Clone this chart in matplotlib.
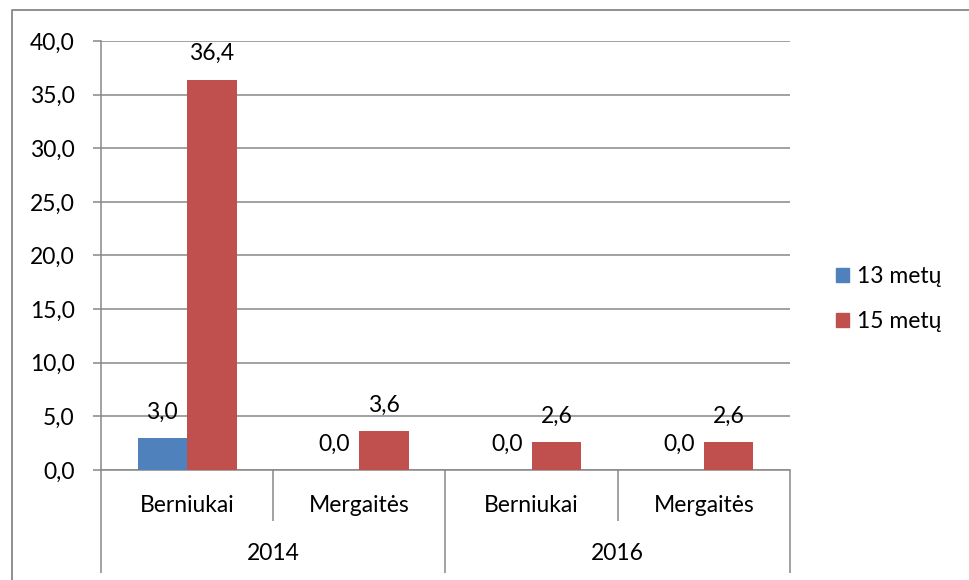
import matplotlib
matplotlib.use("Agg")
import matplotlib.pyplot as plt
from matplotlib.lines import Line2D
from matplotlib.patches import Patch
import matplotlib.transforms as mtransforms
import numpy as np

plt.rcParams['font.family'] = ['Lato', 'DejaVu Sans']

groups = ["Berniukai", "Mergaitės", "Berniukai", "Mergaitės"]
years = ["2014", "2016"]
series_names = ["13 metų", "15 metų"]
values_13 = [3.0, 0.0, 0.0, 0.0]
values_15 = [36.4, 3.6, 2.6, 2.6]
yticks = [0, 5, 10, 15, 20, 25, 30, 35, 40]

colors = ["#4F81BD", "#C0504D"]
grid_c = "#878787"
fs = 16.5

W, H = 970, 580
fig = plt.figure(figsize=(W / 100, H / 100), dpi=100)
ax = fig.add_axes([101 / W, 1 - 470 / H, (790 - 101) / W, (470 - 41) / H])

x = np.arange(len(groups))
bw = 0.288
b1 = ax.bar(x - bw / 2, values_13, bw, color=colors[0], label=series_names[0], zorder=3)
b2 = ax.bar(x + bw / 2, values_15, bw, color=colors[1], label=series_names[1], zorder=3)

for bars, vals in ((b1, values_13), (b2, values_15)):
    for rect, v in zip(bars, vals):
        ax.annotate(f"{v:.1f}".replace(".", ","),
                    (rect.get_x() + rect.get_width() / 2, rect.get_height()),
                    xytext=(0, 11), textcoords="offset points",
                    ha="center", va="bottom", fontsize=fs, color="black")

ax.set_xlim(-0.5, len(groups) - 0.5)
ax.set_ylim(0, 40)
ax.set_yticks(yticks)
ax.set_yticklabels([f"{t:.1f}".replace(".", ",") for t in yticks])
ax.yaxis.grid(True, color=grid_c, linewidth=1.1, zorder=0)
ax.set_axisbelow(True)

for s in ["top", "right"]:
    ax.spines[s].set_visible(False)
for s in ["left", "bottom"]:
    ax.spines[s].set_color(grid_c)
    ax.spines[s].set_linewidth(1.1)

ax.tick_params(axis="y", direction="out", length=6, width=1.1, color=grid_c,
               pad=13, labelsize=fs, labelcolor="black")

# multi-level category axis
ax.set_xticks([-0.5, 1.5, 3.5])
ax.set_xticks([0.5, 2.5], minor=True)
ax.set_xticklabels([])
ax.tick_params(axis="x", which="major", direction="out", length=74, width=1.1, color=grid_c)
ax.tick_params(axis="x", which="minor", direction="out", length=37, width=1.1, color=grid_c)

trans = mtransforms.blended_transform_factory(ax.transData, fig.transFigure)
for xi, g in zip(x, groups):
    ax.text(xi, 1 - 505 / H, g, transform=trans, ha="center", va="center", fontsize=fs)
for i, yr in enumerate(years):
    ax.text(2 * i + 0.5, 1 - 553 / H, yr, transform=trans, ha="center", va="center", fontsize=fs)

handles = [Patch(color=colors[0]), Patch(color=colors[1])]
fig.legend(handles, series_names, loc="center left",
           bbox_to_anchor=(815 / W, 1 - 299 / H), frameon=False, fontsize=fs,
           handlelength=0.6, handleheight=0.6, handletextpad=0.35, labelspacing=1.05)

# outer chart border (top and left)
fig.add_artist(Line2D([12 / W, 12 / W, 1.0], [0.0, 1 - 10 / H, 1 - 10 / H],
                      transform=fig.transFigure, color=grid_c, linewidth=1.3))

fig.savefig("out.png", dpi=100)
